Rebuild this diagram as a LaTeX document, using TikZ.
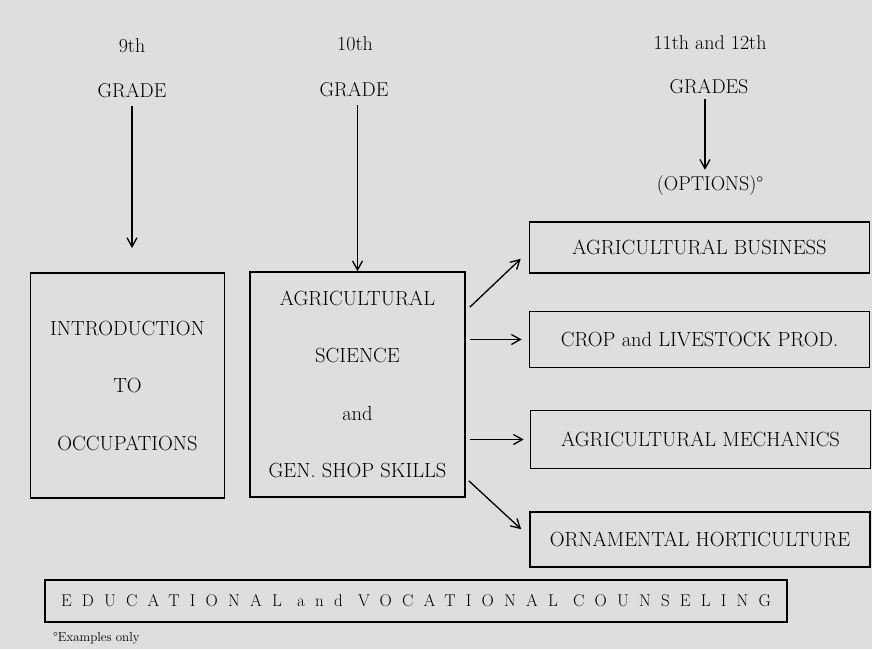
\documentclass[tikz,border=0pt]{standalone}
\usepackage{fontspec}
\setmainfont{Latin Modern Roman}
\usetikzlibrary{arrows.meta}
\definecolor{paper}{gray}{0.87}
\tikzset{
  lbl/.style={font=\fontsize{20}{22}\selectfont, inner sep=0pt},
  box/.style={draw, line width=1.6pt, inner sep=0pt, align=center,
    font=\fontsize{20.5}{57.5}\selectfont},
  optbox/.style={draw, line width=1.6pt, inner sep=0pt, minimum width=340pt,
    font=\fontsize{20.5}{22}\selectfont},
  arr/.style={line width=1.3pt, -{Straight Barb[length=9pt,width=10pt,line width=1.3pt]}}
}
\begin{document}
\begin{tikzpicture}[x=1pt,y=-1pt]
\fill[paper] (0,0) rectangle (872,649);
\useasboundingbox (0,0) rectangle (872,649);
% headers
\node[lbl] (n9) at (132,46) {9th};
\node[lbl] (g9) at (132,91) {GRADE};
\node[lbl] (n10) at (355,44) {10th};
\node[lbl] (g10) at (354,90) {GRADE};
\node[lbl] (n11) at (710,43) {11th and 12th};
\node[lbl] (g11) at (709,87) {GRADES};
\node[lbl] (opt) at (710,186) {(OPTIONS)°};
% main boxes
\node[box, minimum width=194pt, minimum height=225pt] (intro) at (127.5,385.5)
  {INTRODUCTION\\TO\\OCCUPATIONS};
\node[box, minimum width=215pt, minimum height=225pt] (ag) at (357.5,384.5)
  {AGRICULTURAL\\SCIENCE\\and\\GEN. SHOP SKILLS};
% option boxes
\node[optbox, minimum height=51pt] (b1) at (699.5,247.5) {AGRICULTURAL BUSINESS};
\node[optbox, minimum height=56pt] (b2) at (699.5,339.5) {CROP and LIVESTOCK PROD.};
\node[optbox, minimum height=58pt] (b3) at (700.5,439.5) {AGRICULTURAL MECHANICS};
\node[optbox, minimum height=55pt] (b4) at (700,539.5) {ORNAMENTAL HORTICULTURE};
% counseling
\node[draw, line width=1.6pt, inner sep=0pt, minimum width=742pt, minimum height=42pt,
  font=\fontsize{17}{20}\selectfont\addfontfeatures{LetterSpace=60}] (couns) at (416,601)
  {\raisebox{-7pt}{EDUCATIONAL and VOCATIONAL COUNSELING}};
\node[font=\fontsize{13}{15}\selectfont, inner sep=0pt, anchor=west] (foot) at (53,638) {°Examples only};
% vertical arrows
\coordinate (e9) at (132,248);
\coordinate (s10) at ([yshift=-8pt]g10.south);
\draw[arr] ([yshift=-8pt]g9.south) -- (e9);
\draw[arr] (ag.north |- s10) -- (ag.north);
\draw[arr] ([xshift=-4pt,yshift=-5pt]g11.south) -- ([xshift=-5pt,yshift=6pt]opt.north);
% branching arrows
\draw[arr] ([xshift=4pt,yshift=-36pt]ag.north east) -- ([xshift=-8pt,yshift=15pt]b1.south west);
\draw[arr] ([xshift=4pt]ag.east |- b2.west) -- ([xshift=-7pt]b2.west);
\draw[arr] ([xshift=4pt]ag.east |- b3.west) -- ([xshift=-6pt]b3.west);
\draw[arr] ([xshift=3pt,yshift=17pt]ag.south east) -- ([xshift=-8pt,yshift=-18pt]b4.north west);
\end{tikzpicture}
\end{document}
